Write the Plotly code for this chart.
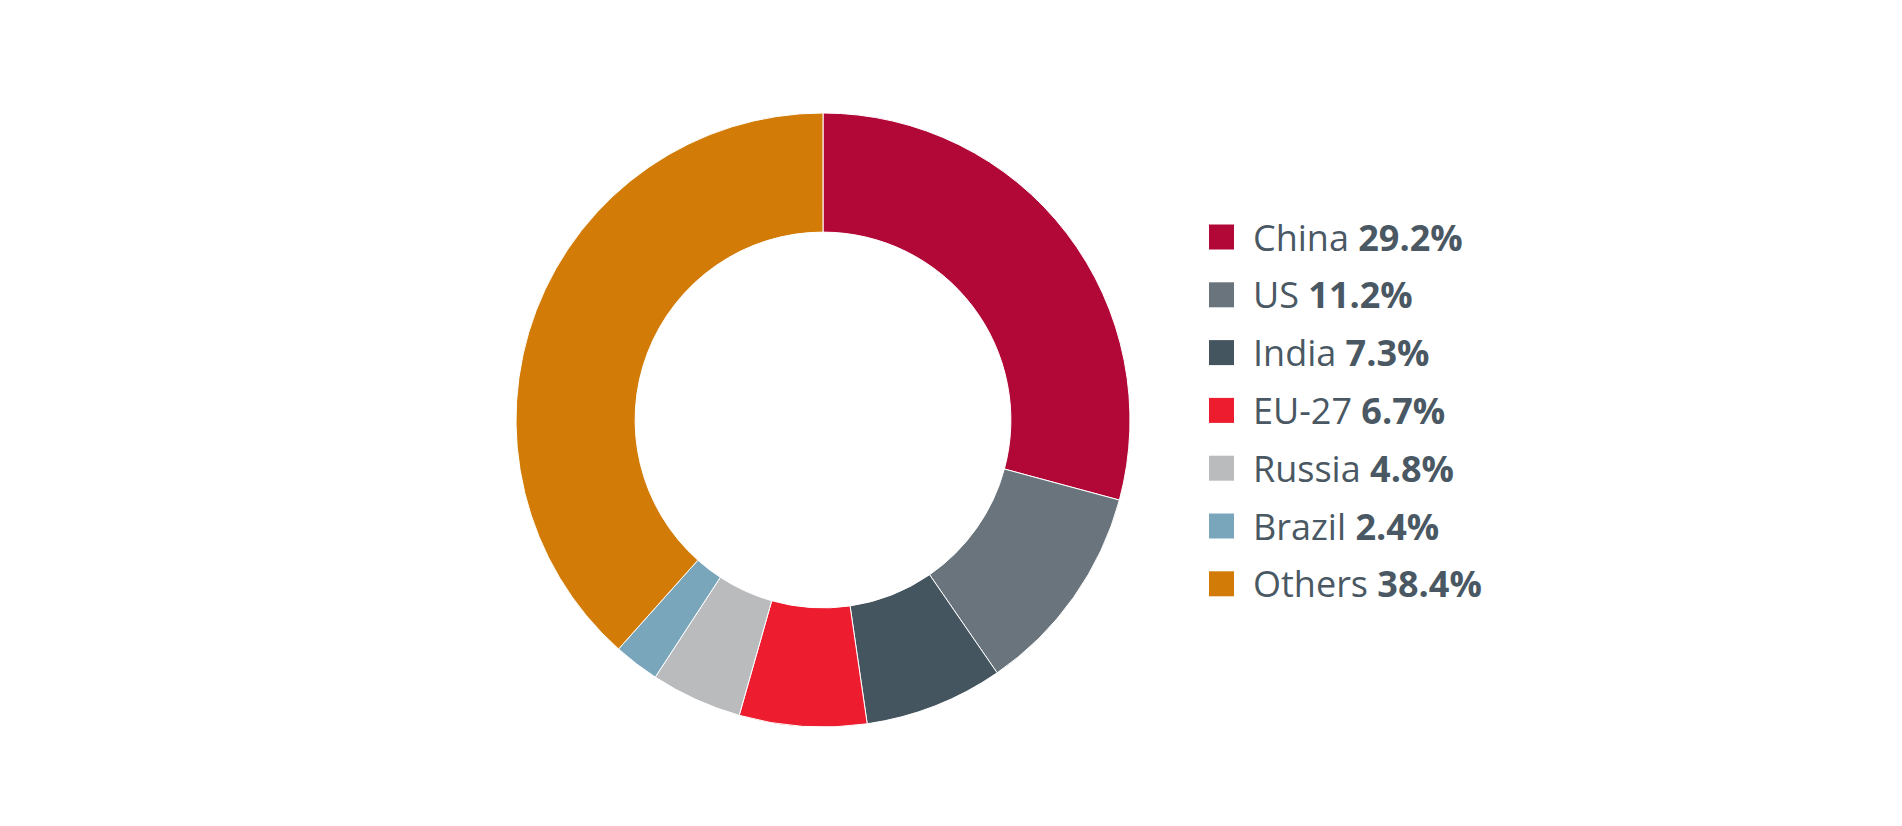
import plotly.graph_objects as go

labels = ["China", "US", "India", "EU-27", "Russia", "Brazil", "Others"]
values = [29.2, 11.2, 7.3, 6.7, 4.8, 2.4, 38.4]
colors = ["#b20838", "#6a747c", "#455560", "#ed1c2e", "#babbbd", "#7aa6bc", "#d27c07"]

W, H = 1902, 826
fig = go.Figure(go.Pie(
    labels=labels, values=values, sort=False, direction="clockwise", rotation=0,
    hole=0.612, marker=dict(colors=colors, line=dict(color="white", width=1)),
    textinfo="none", hoverinfo="label+percent", showlegend=False,
    domain=dict(x=[508 / W, 1122 / W], y=[1 - 719 / H, 1 - 105 / H]),
))

shapes, annots = [], []
for i, (lab, val, col) in enumerate(zip(labels, values, colors)):
    cy = 229 + 57.8 * i
    shapes.append(dict(type="rect", xref="paper", yref="paper",
                       x0=1201 / W, x1=1226 / W, y0=1 - (cy + 12.5) / H, y1=1 - (cy - 12.5) / H,
                       fillcolor=col, line=dict(width=0)))
    annots.append(dict(xref="paper", yref="paper", x=1243 / W, y=1 - cy / H,
                       xanchor="left", yanchor="middle", showarrow=False,
                       text=f"{lab} <b>{val}%</b>",
                       font=dict(family="Open Sans", size=36, color="#4a5863")))

fig.update_layout(width=W, height=H, margin=dict(l=0, r=0, t=0, b=0),
                  paper_bgcolor="white", plot_bgcolor="white",
                  shapes=shapes, annotations=annots)
fig.write_html("out.html")
